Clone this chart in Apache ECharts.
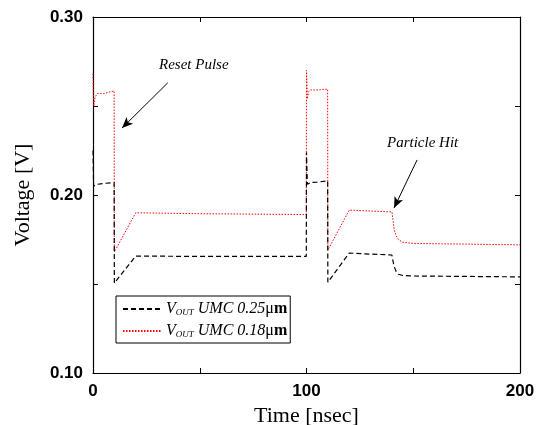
<!DOCTYPE html>
<html>
<head>
<meta charset="utf-8">
<script src="https://cdn.jsdelivr.net/npm/echarts@6/dist/echarts.min.js"></script>
<style>
  html, body { margin: 0; padding: 0; background: #fff; }
  #chart { width: 537px; height: 425px; }
</style>
</head>
<body>
<div id="chart"></div>
<script>
// time samples (ns) shared by both traces; repeated times give the vertical edges
const timeNs = [0, 0.3, 1, 2, 5, 9.9, 10, 20, 50, 99.9, 100, 100.4, 101, 102, 105, 109.9, 110, 120, 130, 140, 140.5, 141, 142, 143, 145, 150, 200];
const vout025 = [0.225, 0.205, 0.206, 0.206, 0.2065, 0.207, 0.1505, 0.1657, 0.1655, 0.1655, 0.224, 0.206, 0.2065, 0.207, 0.2072, 0.208, 0.151, 0.1674, 0.1668, 0.1663, 0.163, 0.160, 0.157, 0.1555, 0.1548, 0.1545, 0.154];
const vout018 = [0.268, 0.250, 0.255, 0.257, 0.257, 0.2585, 0.168, 0.190, 0.1895, 0.189, 0.270, 0.254, 0.258, 0.259, 0.259, 0.2595, 0.169, 0.1915, 0.191, 0.1905, 0.186, 0.181, 0.177, 0.175, 0.1735, 0.1728, 0.172];
const seriesNames = ["UMC 0.25", "UMC 0.18"];
const xTicks = [0, 100, 200];
const yTicks = [0.1, 0.2, 0.3];

// annotation arrows in data coordinates: [start, end]
const resetArrow = [[35, 0.263], [13.6, 0.2376]];
const hitArrow = [[151.8, 0.2197], [141, 0.1927]];

const pairs = (ys) => timeNs.map((t, i) => [t, ys[i]]);

const chart = echarts.init(document.getElementById("chart"), null, { renderer: "canvas" });

const serif = "Liberation Serif";
const sans = "Liberation Sans";

const tickStyle = () => ({ show: true, inside: true, length: 5, lineStyle: { color: "#000", width: 1 } });
const lineAxis = () => ({ show: true, onZero: false, lineStyle: { color: "#000", width: 1.2 } });

const arrowLine = (pts) => ({
  silent: true,
  symbol: ["none", "arrow"],
  symbolSize: [7, 11],
  label: { show: false },
  lineStyle: { type: "solid", color: "#000", width: 1 },
  data: [[{ coord: pts[0] }, { coord: pts[1] }]],
});

const option = {
  animation: false,
  backgroundColor: "#fff",
  grid: { left: 93, right: 17, top: 17, bottom: 52, outerBoundsMode: "none", containLabel: false },
  xAxis: [
    {
      type: "value",
      min: 0,
      max: 200,
      interval: 50,
      axisLine: lineAxis(),
      axisTick: tickStyle(),
      splitLine: { show: false },
      axisLabel: {
        margin: 10,
        color: "#000",
        fontFamily: sans,
        fontWeight: "bold",
        fontSize: 17,
        formatter: (v) => (xTicks.includes(v) ? String(v) : ""),
      },
      name: "Time [nsec]",
      nameLocation: "middle",
      nameGap: 25,
      nameTextStyle: { fontFamily: serif, fontSize: 22, color: "#000" },
    },
    {
      type: "value",
      position: "top",
      min: 0,
      max: 200,
      interval: 50,
      axisLine: lineAxis(),
      axisTick: tickStyle(),
      axisLabel: { show: false },
      splitLine: { show: false },
    },
  ],
  yAxis: [
    {
      type: "value",
      min: 0.1,
      max: 0.3,
      interval: 0.05,
      axisLine: lineAxis(),
      axisTick: tickStyle(),
      splitLine: { show: false },
      axisLabel: {
        margin: 10,
        color: "#000",
        fontFamily: sans,
        fontWeight: "bold",
        fontSize: 17,
        formatter: (v) => {
          const hit = yTicks.find((t) => Math.abs(t - v) < 1e-6);
          return hit !== undefined ? hit.toFixed(2) : "";
        },
      },
      name: "Voltage [V]",
      nameLocation: "middle",
      nameGap: 59,
      nameTextStyle: { fontFamily: serif, fontSize: 22, color: "#000" },
    },
    {
      type: "value",
      position: "right",
      min: 0.1,
      max: 0.3,
      interval: 0.05,
      axisLine: lineAxis(),
      axisTick: tickStyle(),
      axisLabel: { show: false },
      splitLine: { show: false },
    },
  ],
  legend: {
    orient: "vertical",
    left: 116,
    top: 296,
    itemWidth: 38,
    itemHeight: 12,
    itemGap: 6,
    padding: [5, 3, 4, 6],
    borderColor: "#000",
    borderWidth: 1,
    backgroundColor: "#fff",
    data: seriesNames,
    itemStyle: { opacity: 0 },
    formatter: (name) => "{v|V}{sub|OUT}{t| " + name + "}{mu|μ}{m|m}",
    textStyle: {
      color: "#000",
      rich: {
        v: { fontFamily: serif, fontStyle: "italic", fontSize: 16 },
        sub: { fontFamily: serif, fontStyle: "italic", fontSize: 9, verticalAlign: "bottom", padding: [6, 0, 0, 0] },
        t: { fontFamily: serif, fontStyle: "italic", fontSize: 16 },
        mu: { fontFamily: serif, fontSize: 16 },
        m: { fontFamily: serif, fontWeight: "bold", fontSize: 16 },
      },
    },
  },
  graphic: [
    {
      type: "text",
      left: 159,
      top: 58,
      style: { text: "Reset Pulse", fontFamily: serif, fontStyle: "italic", fontSize: 15, fill: "#000" },
    },
    {
      type: "text",
      left: 387,
      top: 136,
      style: { text: "Particle Hit", fontFamily: serif, fontStyle: "italic", fontSize: 15, fill: "#000" },
    },
  ],
  series: [
    {
      name: seriesNames[0],
      type: "line",
      showSymbol: false,
      symbol: "none",
      data: pairs(vout025),
      lineStyle: { color: "#000", width: 1.2, type: [5, 3] },
      itemStyle: { color: "#000" },
      markLine: arrowLine(resetArrow),
      z: 3,
    },
    {
      name: seriesNames[1],
      type: "line",
      showSymbol: false,
      symbol: "none",
      data: pairs(vout018),
      lineStyle: { color: "#ff0000", width: 1, type: [1.5, 1.5] },
      itemStyle: { color: "#ff0000" },
      markLine: arrowLine(hitArrow),
      z: 2,
    },
  ],
};

chart.setOption(option);
</script>
</body>
</html>
